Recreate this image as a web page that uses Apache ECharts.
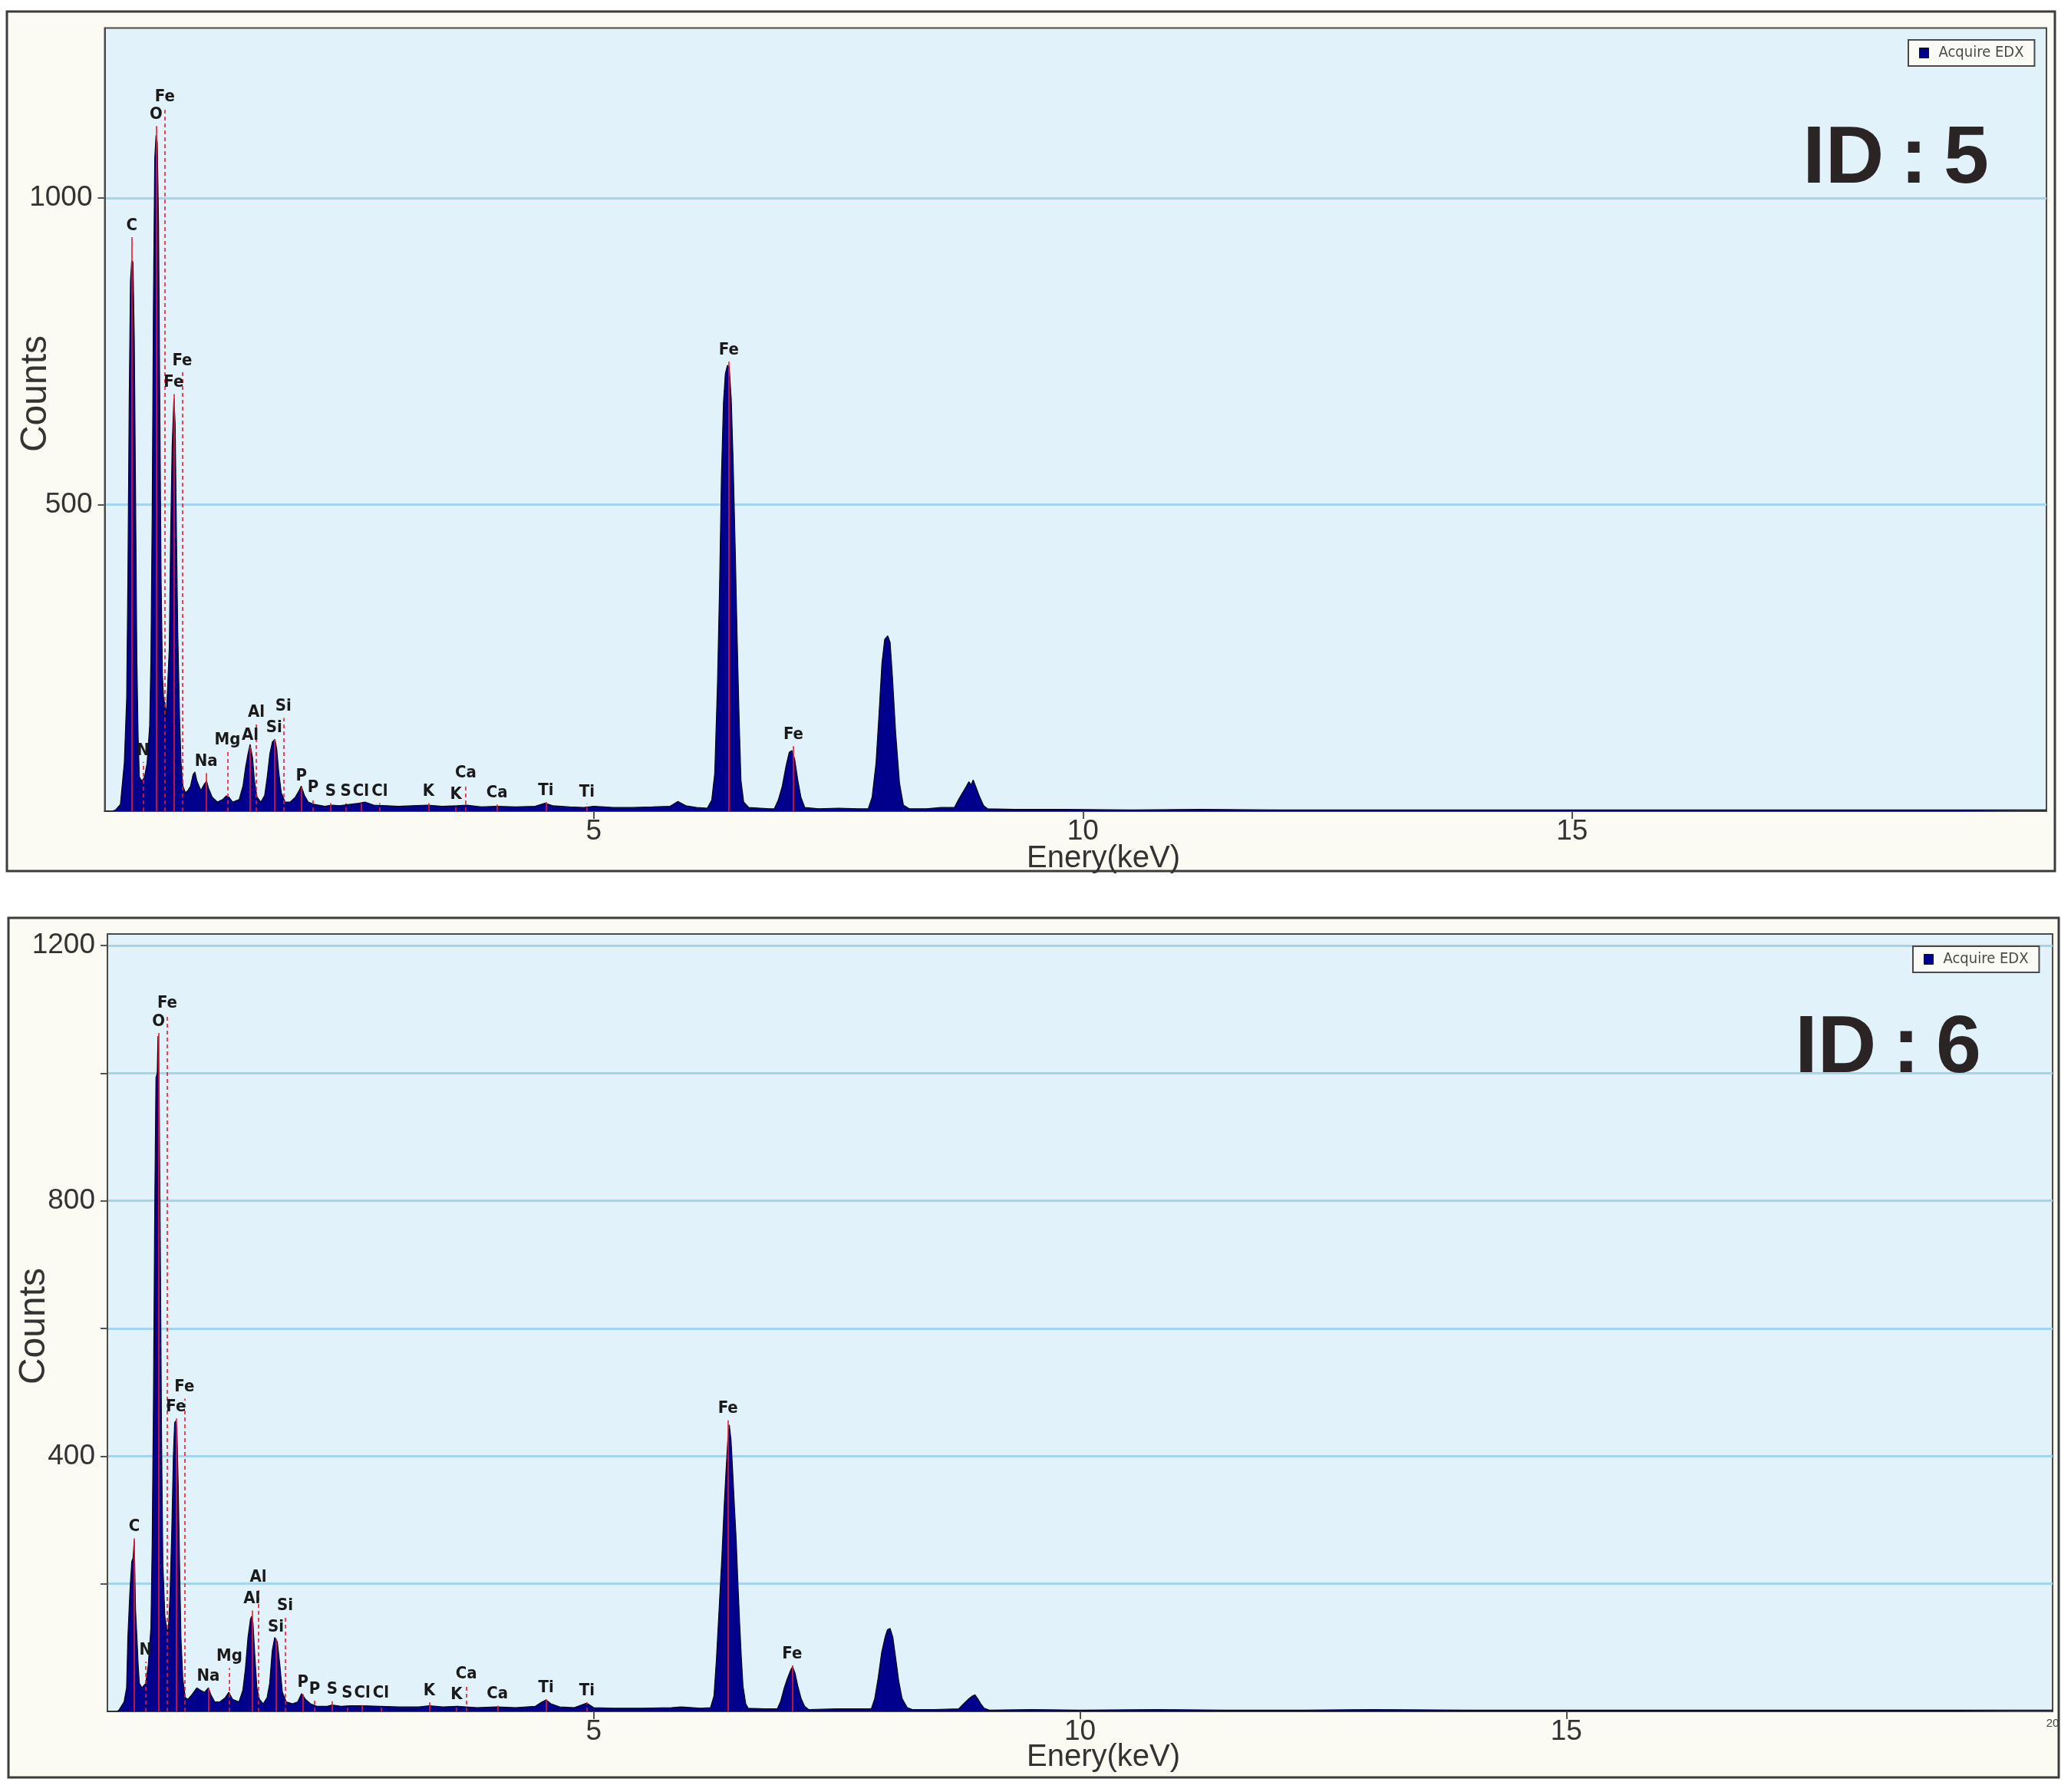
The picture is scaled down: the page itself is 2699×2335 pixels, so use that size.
<!DOCTYPE html>
<html>
<head>
<meta charset="utf-8">
<script src="https://cdn.jsdelivr.net/npm/echarts@6/dist/echarts.min.js"></script>
<style>
html,body{margin:0;padding:0;background:#ffffff;}
#chart{width:2699px;height:2335px;}
</style>
</head>
<body>
<div id="chart"></div>
<script>
// ---------------- DATA ----------------
// ID : 5 spectrum (energy in keV, counts)
const energy5 = [
  0, 0.08, 0.11, 0.16, 0.20, 0.224, 0.237, 0.250, 0.263, 0.276, 0.289, 0.302, 0.315, 0.328, 0.341, 0.354,
  0.380, 0.407, 0.433, 0.459, 0.472, 0.485, 0.498, 0.511, 0.524, 0.537, 0.550, 0.563, 0.576, 0.590, 0.603, 0.616, 0.629, 0.642,
  0.660, 0.673, 0.689, 0.707, 0.720, 0.733, 0.746, 0.765, 0.780, 0.799,
  0.825, 0.851, 0.877, 0.903, 0.922, 0.943, 0.982, 1.021, 1.042, 1.060, 1.099, 1.152, 1.204, 1.243, 1.269, 1.308, 1.374,
  1.413, 1.439, 1.465, 1.486, 1.512, 1.531, 1.557, 1.596, 1.635, 1.661, 1.688, 1.714, 1.740, 1.758, 1.779, 1.805, 1.844,
  1.897, 1.949, 1.988, 2.009, 2.041, 2.080, 2.145, 2.250,
  2.32, 2.40, 2.50, 2.60, 2.66, 2.75, 2.88, 3.00, 3.15, 3.30, 3.45, 3.60, 3.70, 3.85, 4.00, 4.20, 4.40, 4.50, 4.58, 4.75, 4.90, 5.00, 5.20, 5.40, 5.60, 5.78, 5.86, 5.94, 6.05, 6.16,
  6.205, 6.236, 6.264, 6.285, 6.304, 6.325, 6.344, 6.365, 6.384, 6.405, 6.424, 6.445, 6.464, 6.485, 6.504, 6.532, 6.584,
  6.70, 6.80, 6.845, 6.885, 6.925, 6.965, 6.997, 7.024, 7.053, 7.085, 7.117, 7.157,
  7.30, 7.50, 7.70, 7.805, 7.845, 7.885, 7.917, 7.945, 7.973, 8.005, 8.029, 8.053, 8.085, 8.125, 8.165, 8.225,
  8.40, 8.55, 8.686, 8.725, 8.765, 8.806, 8.834, 8.857, 8.878, 8.905, 8.945, 8.985, 9.025,
  9.30, 9.80, 10.5, 11.2, 12.0, 13.0, 14.0, 15.0, 16.0, 17.0, 18.0, 19.0, 19.85
];
const counts5 = [
  0, 0, 2, 11, 79, 184, 387, 669, 865, 898, 895, 771, 519, 252, 124, 56,
  49, 56, 79, 139, 248, 485, 835, 1064, 1102, 1090, 959, 665, 380, 222, 180, 177, 154, 154,
  267, 444, 594, 673, 632, 455, 297, 154, 79, 41,
  30, 34, 41, 60, 64, 49, 34, 45, 49, 38, 23, 15, 19, 25, 23, 15, 19,
  41, 71, 94, 109, 86, 49, 23, 15, 26, 56, 94, 113, 117, 102, 64, 30, 15,
  15, 23, 34, 41, 26, 15, 11, 8,
  10, 9, 11, 13, 15, 10, 9, 8, 9, 10, 8, 9, 10, 7, 8, 7, 8, 13, 9, 7, 6, 8, 6, 6, 7, 8, 16, 9, 6, 5,
  18, 62, 208, 364, 543, 666, 713, 727, 724, 671, 571, 431, 291, 152, 51, 15, 6,
  5, 4, 4, 18, 40, 74, 96, 99, 85, 51, 23, 6,
  4, 5, 4, 4, 23, 79, 163, 241, 280, 286, 275, 219, 129, 46, 10, 4,
  4, 6, 6, 18, 29, 40, 48, 43, 51, 40, 23, 9, 4,
  3, 3, 2, 3, 2, 2, 2, 2, 2, 2, 2, 2, 2
];

// ID : 6 spectrum
const energy6 = [
  0, 0.10, 0.118, 0.171, 0.197, 0.210, 0.231, 0.250, 0.263, 0.276, 0.289, 0.302, 0.315, 0.328, 0.355,
  0.394, 0.420, 0.447, 0.460, 0.473, 0.486, 0.499, 0.512, 0.520, 0.531, 0.544, 0.557, 0.570, 0.591, 0.609, 0.625,
  0.644, 0.662, 0.678, 0.691, 0.701, 0.714, 0.728, 0.741, 0.756, 0.775, 0.801,
  0.827, 0.867, 0.919, 0.959, 0.998, 1.038, 1.064, 1.103, 1.156, 1.208, 1.248, 1.287, 1.353,
  1.392, 1.418, 1.445, 1.471, 1.484, 1.497, 1.516, 1.537, 1.563, 1.602, 1.642, 1.668, 1.694, 1.720, 1.747, 1.773, 1.799, 1.839,
  1.904, 1.957, 1.996, 2.036, 2.088, 2.154, 2.259,
  2.31, 2.40, 2.50, 2.62, 2.80, 3.00, 3.20, 3.31, 3.45, 3.60, 3.80, 4.00, 4.20, 4.40, 4.46, 4.51, 4.56, 4.65, 4.80, 4.93, 5.00, 5.20, 5.50, 5.80, 5.90, 6.10,
  6.201, 6.236, 6.261, 6.289, 6.317, 6.341, 6.359, 6.377, 6.394, 6.412, 6.430, 6.447, 6.465, 6.482, 6.500, 6.518, 6.535, 6.563, 6.588,
  6.75, 6.887, 6.922, 6.957, 6.992, 7.028, 7.045, 7.070, 7.098, 7.133, 7.168, 7.210,
  7.50, 7.854, 7.889, 7.924, 7.960, 7.995, 8.020, 8.048, 8.076, 8.101, 8.136, 8.171, 8.224, 8.277,
  8.50, 8.751, 8.804, 8.857, 8.892, 8.920, 8.948, 8.980, 9.015, 9.068,
  9.50, 10.0, 10.8, 11.5, 12.3, 13.0, 14.0, 15.0, 16.0, 17.0, 18.0, 19.0, 20.0
];
const counts6 = [
  0, 0, 2, 15, 37, 116, 188, 235, 240, 268, 160, 120, 77, 44, 37,
  44, 73, 131, 261, 484, 780, 993, 1000, 1058, 993, 726, 423, 232, 149, 131, 123,
  185, 286, 401, 452, 455, 445, 354, 239, 116, 51, 22,
  19, 26, 37, 33, 30, 37, 26, 15, 15, 21, 30, 19, 15,
  33, 66, 116, 145, 149, 138, 87, 37, 19, 12, 22, 44, 95, 116, 109, 73, 30, 15,
  12, 15, 28, 19, 12, 8, 8,
  10, 8, 9, 9, 8, 7, 7, 9, 7, 8, 6, 7, 6, 8, 14, 18, 12, 7, 6, 13, 6, 5, 5, 6, 7, 5,
  6, 24, 80, 160, 240, 321, 373, 421, 449, 425, 373, 321, 269, 204, 140, 84, 40, 12, 5,
  4, 4, 16, 36, 52, 66, 70, 60, 40, 20, 8, 3,
  4, 4, 20, 52, 92, 116, 128, 130, 116, 88, 48, 20, 6, 3,
  3, 4, 12, 20, 24, 26, 20, 12, 5, 2,
  3, 2, 3, 2, 2, 3, 2, 2, 2, 2, 2, 2, 2
];

// Identified element lines (shared by both spectra)
const lineElements = ['C','N','O','Fe','Fe','Fe','Na','Mg','Al','Al','Si','Si','P','P','S','S','Cl','Cl','K','K','Ca','Ca','Ti','Ti','Fe','Fe'];
const lineEnergies = [0.277,0.392,0.525,0.615,0.705,0.792,1.037,1.254,1.486,1.550,1.732,1.826,2.010,2.130,2.310,2.465,2.620,2.812,3.310,3.590,3.690,4.010,4.510,4.930,6.380,7.040];
const linePrimary  = [1,0,1,0,1,0,1,0,1,0,1,0,1,0,1,0,1,0,1,0,0,1,1,0,1,1];
// marker heights (counts) for each line
const markerTop5 = [936, 80, 1117, 1146, 680, 716, 62, 97, 105, 142, 117, 152, 39, 20, 13, 13, 13, 13, 13, 9, 44, 11, 15, 12, 733, 106];
const markerTop6 = [271, 78, 1063, 1092, 459, 490, 37, 68, 158, 192, 114, 148, 27, 17, 16, 10, 10, 10, 14, 8, 41, 9, 19, 14, 456, 72];

// axis ticks
const xTicks = [5, 10, 15];
const yTicks5 = [500, 1000];
const yTicks6 = [200, 400, 600, 800, 1000, 1200];
const yLabels6 = [400, 800, 1200];
const seriesName = 'Acquire EDX';
const panelTitles = ['ID\u2009:\u20095', 'ID\u2009:\u20096'];
const xName = 'Enery(keV)';
const yName = 'Counts';

// ---------------- CHART ----------------
const NARROW = "'Liberation Sans Narrow','Arial Narrow','DejaVu Sans Condensed',sans-serif";
const SANS = "'Liberation Sans',Arial,sans-serif";
const BG_PLOT = '#e1f2fa';
const GRIDLINE = '#a3d6ee';
const AXIS = '#4a4a4a';
const FILL = '#00008c';

function markerData(tops) {
  return lineElements.map(function (name, i) {
    const ls = { type: linePrimary[i] ? 'solid' : [5, 4] };
    return [
      { name: name, coord: [lineEnergies[i], 0], lineStyle: ls },
      { coord: [lineEnergies[i], tops[i]], lineStyle: ls }
    ];
  });
}

function makeSeries(idx, energy, counts, tops) {
  return {
    name: seriesName,
    type: 'line',
    xAxisIndex: idx,
    yAxisIndex: idx,
    data: energy.map(function (e, i) { return [e, counts[i]]; }),
    showSymbol: false,
    symbol: 'none',
    animation: false,
    silent: true,
    lineStyle: { color: '#07071c', width: 1.2 },
    itemStyle: { color: FILL },
    areaStyle: { color: FILL, opacity: 1 },
    markLine: {
      silent: true,
      symbol: ['none', 'none'],
      animation: false,
      lineStyle: { color: 'rgba(236,24,44,0.8)', width: 2 },
      label: { show: true, position: 'end', formatter: '{b}', color: '#1a1a1a', fontSize: 22, fontWeight: 'bold', fontFamily: NARROW, distance: 4 },
      emphasis: { disabled: true },
      data: markerData(tops)
    }
  };
}

function xAxisCfg(idx, max, labelValues) {
  return {
    gridIndex: idx, type: 'value', min: 0, max: max, interval: 5,
    axisLine: { show: true, onZero: false, lineStyle: { color: AXIS, width: 2 } },
    axisTick: { show: true, customValues: xTicks, length: 10, lineStyle: { color: '#555', width: 2 } },
    axisLabel: {
      customValues: labelValues, fontSize: 37, color: '#333', fontFamily: SANS, margin: 8,
      formatter: function (v) { return v === 20 ? '{s|20}' : String(v); },
      rich: { s: { fontSize: 15, color: '#444', fontFamily: SANS } }
    },
    splitLine: { show: false }
  };
}

function yAxisCfg(idx, max, interval, ticks, labels) {
  return {
    gridIndex: idx, type: 'value', min: 0, max: max, interval: interval,
    axisLine: { show: true, lineStyle: { color: AXIS, width: 2 } },
    axisTick: { show: true, customValues: ticks, length: 9, lineStyle: { color: '#555', width: 2 } },
    axisLabel: { customValues: labels, fontSize: 37, color: '#333', fontFamily: SANS, margin: 16,
      formatter: function (v) { return String(v); } },
    splitLine: { show: true, lineStyle: { color: GRIDLINE, width: 3 } }
  };
}

function legendCfg(left, top) {
  return {
    data: [seriesName], left: left, top: top, orient: 'horizontal', icon: 'rect',
    itemWidth: 12, itemHeight: 13, padding: [7, 14, 7, 14],
    backgroundColor: '#fbfbf6', borderColor: AXIS, borderWidth: 2, borderRadius: 0,
    selectedMode: false,
    itemStyle: { color: FILL, borderColor: '#111', borderWidth: 1 },
    textStyle: { fontSize: 20, color: '#4a4a4a', fontFamily: NARROW, padding: [0, 0, 0, 8] }
  };
}

const chart = echarts.init(document.getElementById('chart'), null, { renderer: 'canvas' });
chart.setOption({
  animation: false,
  backgroundColor: '#ffffff',
  textStyle: { fontFamily: SANS },
  grid: [
    { left: 136.5, top: 36.5, width: 2530.5, height: 1020.5, show: true, backgroundColor: BG_PLOT, borderColor: AXIS, borderWidth: 2, outerBoundsMode: 'none', containLabel: false },
    { left: 140, top: 1217, width: 2535, height: 1013, show: true, backgroundColor: BG_PLOT, borderColor: AXIS, borderWidth: 2, outerBoundsMode: 'none', containLabel: false }
  ],
  xAxis: [xAxisCfg(0, 19.85, [5, 10, 15]), xAxisCfg(1, 20, [5, 10, 15, 20])],
  yAxis: [yAxisCfg(0, 1277, 500, yTicks5, yTicks5), yAxisCfg(1, 1218, 200, yTicks6, yLabels6)],
  legend: [legendCfg(2487, 52), legendCfg(2493, 1233)],
  series: [makeSeries(0, energy5, counts5, markerTop5), makeSeries(1, energy6, counts6, markerTop6)],
  graphic: [
    { type: 'rect', z: -100, silent: true, shape: { x: 9, y: 15, width: 2669, height: 1120 }, style: { fill: '#fbfbf3', stroke: '#3c3c3c', lineWidth: 3 } },
    { type: 'rect', z: -100, silent: true, shape: { x: 11, y: 1196, width: 2672, height: 1120 }, style: { fill: '#fbfbf3', stroke: '#3c3c3c', lineWidth: 3 } },
    { type: 'text', x: 47, y: 513, rotation: Math.PI / 2, silent: true, style: { text: yName, fontSize: 48, fontFamily: SANS, fill: '#333', align: 'center', verticalAlign: 'middle' } },
    { type: 'text', x: 45, y: 1728, rotation: Math.PI / 2, silent: true, style: { text: yName, fontSize: 48, fontFamily: SANS, fill: '#333', align: 'center', verticalAlign: 'middle' } },
    { type: 'text', x: 1438, y: 1119, silent: true, style: { text: xName, fontSize: 40, fontFamily: SANS, fill: '#333', align: 'center', verticalAlign: 'middle' } },
    { type: 'text', x: 1438, y: 2290, silent: true, style: { text: xName, fontSize: 40, fontFamily: SANS, fill: '#333', align: 'center', verticalAlign: 'middle' } },
    { type: 'text', x: 2592, y: 209, silent: true, z: 10, style: { text: panelTitles[0], fontSize: 106, fontWeight: 'bold', fontFamily: SANS, fill: '#2a2424', align: 'right', verticalAlign: 'middle' } },
    { type: 'text', x: 2582, y: 1368, silent: true, z: 10, style: { text: panelTitles[1], fontSize: 106, fontWeight: 'bold', fontFamily: SANS, fill: '#2a2424', align: 'right', verticalAlign: 'middle' } }
  ]
});
</script>
</body>
</html>
